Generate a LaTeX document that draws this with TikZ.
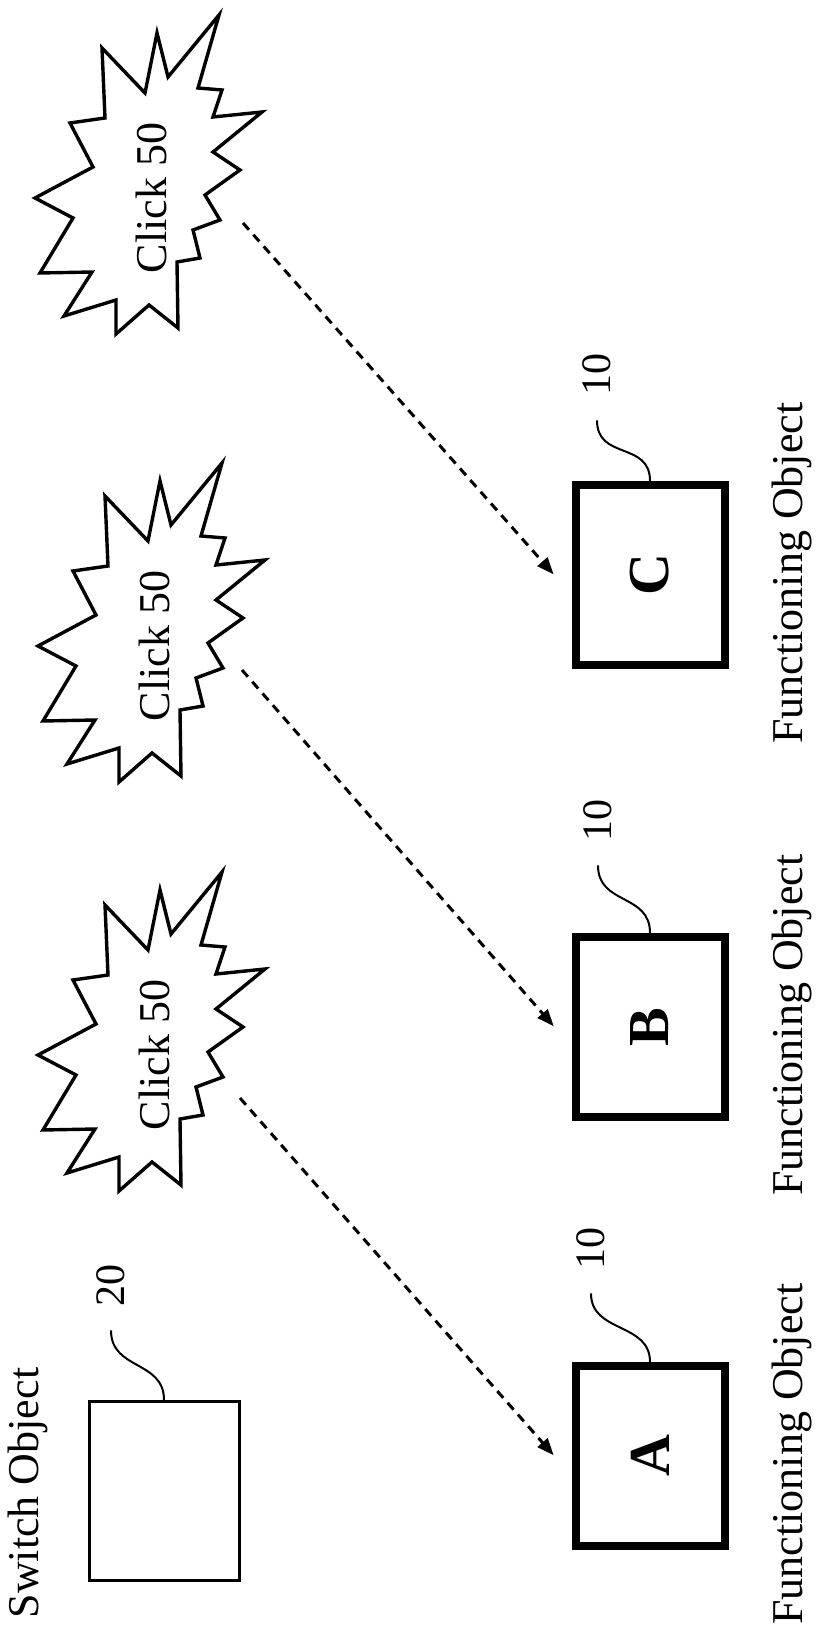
\documentclass[tikz,border=0pt]{standalone}
\usepackage{fontspec}
\setmainfont{Liberation Serif}
\usepackage{graphicx}
\usetikzlibrary{arrows.meta,calc}

\tikzset{
  fobox/.style={draw,line width=4pt,minimum width=74.5pt,minimum height=90pt,inner sep=0pt,
    font=\fontsize{29}{29}\selectfont\bfseries},
  swbox/.style={draw,line width=1.5pt,minimum width=75pt,minimum height=89.5pt,inner sep=0pt},
  caption/.style={rotate=90,inner sep=0pt,font=\fontsize{22}{22}\selectfont},
  refnum/.style={rotate=90,inner sep=0pt,font=\fontsize{21}{21}\selectfont},
  leader/.style={line width=1pt},
  burst/.style={line width=1.7pt,line join=miter},
  clickarrow/.style={-{Triangle[length=8.5pt,width=6.5pt]},line width=1.5pt,
    dash pattern=on 4.5pt off 3.3pt,shorten >=13.5pt}
}

% star outline round a click text
\newcommand{\clickburst}[1]{%
  \draw[burst,shift={(#1)}] (68,-183) -- (47,-110) -- (71,-108) -- (62,-81) -- (111,-86)
    -- (62,-46) -- (89,-28) -- (54,-3) -- (69,22) -- (42,32) -- (49,60) -- (26,64)
    -- (27,130) -- (-2,107) -- (-35,136) -- (-35,102) -- (-87,118) -- (-59,74)
    -- (-111,75) -- (-78,20) -- (-116,0) -- (-58,-31) -- (-81,-75) -- (-46,-80)
    -- (-49,-150) -- (-6,-105) -- (6,-165) -- (17,-121) -- cycle;}

\begin{document}
\begin{tikzpicture}[x=0.5pt,y=-0.5pt]
\useasboundingbox (0,0) rectangle (818,1625);

% switch object
\node[swbox](S) at (164,1491) {};
\node[caption](Scap) at (28,1493) {Switch Object};
\node[refnum](lS) at (111,1285) {20};
\coordinate (tS) at ([yshift=-12pt]lS.west);
\draw[leader] (S.north) .. controls ($(S.north)+(0,-40)$) and ($(tS)+(0,40)$) .. (tS);

% functioning objects
\node[fobox](A) at (650,1456) {\rotatebox{90}{A}};
\node[fobox](B) at (650,1027) {\rotatebox{90}{B}};
\node[fobox](C) at (650,575) {\rotatebox{90}{C}};
\node[caption](Acap) at (792,1454) {Functioning Object};
\node[caption](Bcap) at (792,1025) {Functioning Object};
\node[caption](Ccap) at (792,573) {Functioning Object};

\node[refnum](lA) at (591,1248) {10};
\node[refnum](lB) at (598,820) {10};
\node[refnum](lC) at (597,375) {10};
\coordinate (tA) at ([yshift=-12pt]lA.west);
\coordinate (tB) at ([yshift=-12pt]lB.west);
\coordinate (tC) at ([yshift=-12pt]lC.west);
\draw[leader] (A.north) .. controls ($(A.north)+(0,-40)$) and ($(tA)+(0,40)$) .. (tA);
\draw[leader] (B.north) .. controls ($(B.north)+(0,-40)$) and ($(tB)+(0,40)$) .. (tB);
\draw[leader] (C.north) .. controls ($(C.north)+(0,-40)$) and ($(tC)+(0,40)$) .. (tC);

% clicks
\node[caption](click1) at (154,1055) {Click 50};
\node[caption](click2) at (154,646) {Click 50};
\node[caption](click3) at (151,198) {Click 50};
\clickburst{click1}
\clickburst{click2}
\clickburst{click3}

\coordinate (sA) at ($(click1)+(86,43)$);
\coordinate (sB) at ($(click2)+(88,24)$);
\coordinate (sC) at ($(click3)+(92,25)$);

\path
(sA) edge[clickarrow] (A.194)
(sB) edge[clickarrow] (B.194)
(sC) edge[clickarrow] (C.194);

\end{tikzpicture}
\end{document}
